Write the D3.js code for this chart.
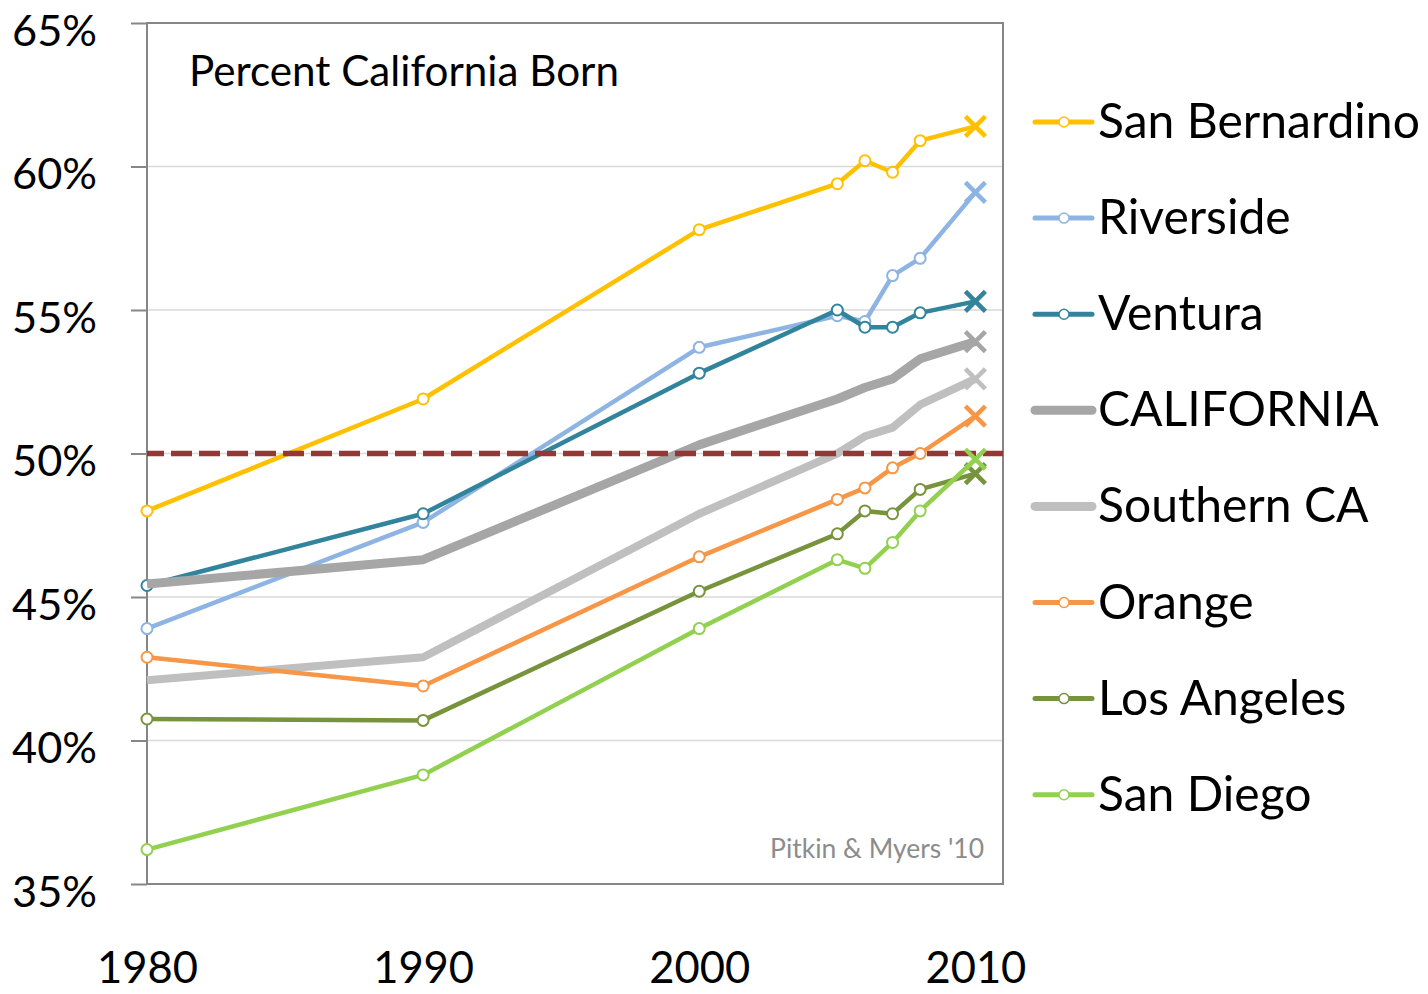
<!DOCTYPE html>
<html>
<head>
<meta charset="utf-8">
<script src="https://cdn.jsdelivr.net/npm/d3@7"></script>
<style>
  html, body { margin:0; padding:0; background:#fff; }
  svg { display:block; font-family: Lato, "Open Sans", sans-serif; }
</style>
</head>
<body>
<svg id="chart" width="1428" height="994"></svg>
<script>
// Percent California born, by county / region, 1980-2010.
const YEARS = [1980, 1990, 2000, 2005, 2006, 2007, 2008, 2010];
const SAN_BERNARDINO = [48.0, 51.9, 57.8, 59.4, 60.2, 59.8, 60.9, 61.4];
const RIVERSIDE      = [43.9, 47.6, 53.7, 54.8, 54.6, 56.2, 56.8, 59.1];
const VENTURA        = [45.4, 47.9, 52.8, 55.0, 54.4, 54.4, 54.9, 55.3];
const CALIFORNIA     = [45.45, 46.3, 50.3, 51.9, 52.3, 52.6, 53.3, 53.9];
const SOUTHERN_CA    = [42.1, 42.9, 47.9, 50.0, 50.6, 50.9, 51.7, 52.6];
const ORANGE         = [42.9, 41.9, 46.4, 48.4, 48.8, 49.5, 50.0, 51.3];
const LOS_ANGELES    = [40.75, 40.7, 45.2, 47.2, 48.0, 47.9, 48.75, 49.3];
const SAN_DIEGO      = [36.2, 38.8, 43.9, 46.3, 46.0, 46.9, 48.0, 49.8];

const NAMES  = ["San Bernardino","Riverside","Ventura","CALIFORNIA","Southern CA","Orange","Los Angeles","San Diego"];
const VALUES = [SAN_BERNARDINO, RIVERSIDE, VENTURA, CALIFORNIA, SOUTHERN_CA, ORANGE, LOS_ANGELES, SAN_DIEGO];
const COLORS = ["#ffc000","#8db4e2","#31849b","#a6a6a6","#bfbfbf","#f79646","#77933c","#92d050"];
const Y_TICKS = [35, 40, 45, 50, 55, 60, 65];
const X_TICKS = [1980, 1990, 2000, 2010];
const MAJORITY = 50;

const svg = d3.select("#chart");
const L = 147, R = 1003, T = 23, B = 884;
const x = d3.scaleLinear().domain([1980, 2011]).range([L, R]);
const y = d3.scaleLinear().domain([35, 65]).range([B, T]);

// fit a text node to a target width by scaling its font-size
function fitWidth(sel, w){
  sel.each(function(){
    const fs = parseFloat(this.getAttribute("font-size"));
    const len = this.getComputedTextLength();
    if (len > 0) this.setAttribute("font-size", (fs * w / len).toFixed(2));
  });
  return sel;
}

// gridlines
svg.append("g").selectAll("line").data(Y_TICKS.filter(v => v > 35 && v < 65)).join("line")
  .attr("x1", L).attr("x2", R).attr("y1", d => y(d)).attr("y2", d => y(d))
  .attr("stroke", "#d9d9d9").attr("stroke-width", 1.5);

// y axis (ticks + labels)
const yAxis = svg.append("g").attr("transform", `translate(${L},0)`)
  .call(d3.axisLeft(y).tickValues(Y_TICKS).tickSize(16).tickPadding(0).tickFormat(d => d + "%"));
yAxis.select(".domain").remove();
yAxis.selectAll(".tick line").attr("stroke", "#868686").attr("stroke-width", 2);
yAxis.selectAll(".tick text")
  .attr("x", -50).attr("y", 22).attr("dy", 0).attr("fill", "#000")
  .attr("font-size", 44).attr("font-family", "Lato, sans-serif");
fitWidth(yAxis.selectAll(".tick text"), 85);

// x axis labels
const xAxis = svg.append("g").attr("transform", `translate(0,${B})`)
  .call(d3.axisBottom(x).tickValues(X_TICKS).tickSize(0).tickPadding(0).tickFormat(d3.format("d")));
xAxis.select(".domain").remove();
xAxis.selectAll(".tick text")
  .attr("y", 99).attr("dy", 0).attr("fill", "#000")
  .attr("font-size", 44).attr("font-family", "Lato, sans-serif");
fitWidth(xAxis.selectAll(".tick text"), 101);

// plot box
svg.append("rect").attr("x", L).attr("y", T).attr("width", R - L).attr("height", B - T)
  .attr("fill", "none").attr("stroke", "#868686").attr("stroke-width", 2);

const line = d3.line().x((d, i) => x(YEARS[i])).y(d => y(d));
const plot = svg.append("g");

function drawSeries(k){
  const vals = VALUES[k], col = COLORS[k];
  const heavy = k === 3 || k === 4;
  const g = plot.append("g");
  g.append("path").datum(vals).attr("d", line)
    .attr("fill", "none").attr("stroke", col)
    .attr("stroke-width", k === 3 ? 9 : (k === 4 ? 8 : 4.5))
    .attr("stroke-linejoin", "round");
  if (!heavy){
    g.selectAll("circle").data(vals.slice(0, -1)).join("circle")
      .attr("cx", (d, i) => x(YEARS[i])).attr("cy", d => y(d)).attr("r", 5.5)
      .attr("fill", "#fff").attr("stroke", col).attr("stroke-width", 2);
  }
  const last = vals.length - 1, cx = x(YEARS[last]), cy = y(vals[last]), s = 10;
  g.append("path")
    .attr("d", `M${cx - s},${cy - s}L${cx + s},${cy + s}M${cx - s},${cy + s}L${cx + s},${cy - s}`)
    .attr("stroke", col).attr("stroke-width", 4.5);
}

// draw order as in the source: heavy gray series under the majority line
[0, 1, 2, 3, 4].forEach(drawSeries);
plot.append("line")
  .attr("x1", L).attr("x2", R).attr("y1", y(MAJORITY)).attr("y2", y(MAJORITY))
  .attr("stroke", "#953735").attr("stroke-width", 5.5).attr("stroke-dasharray", "21 7")
  .attr("stroke-dashoffset", 4);
[5, 6, 7].forEach(drawSeries);

// title and credit
fitWidth(svg.append("text").attr("x", 189).attr("y", 86).attr("font-size", 38)
  .attr("fill", "#000").text("Percent California Born"), 430);
fitWidth(svg.append("text").attr("x", 984).attr("y", 858).attr("text-anchor", "end")
  .attr("font-size", 26).attr("fill", "#8c8c8c").text("Pitkin & Myers '10"), 214);

// legend
const LEG_Y0 = 122, LEG_DY = 96.1;
const leg = svg.append("g").selectAll("g").data(NAMES).join("g")
  .attr("transform", (d, i) => `translate(0,${LEG_Y0 + i * LEG_DY})`);
leg.append("line").attr("x1", 1035).attr("x2", 1092).attr("y1", 0).attr("y2", 0)
  .attr("stroke", (d, i) => COLORS[i]).attr("stroke-linecap", "round")
  .attr("stroke-width", (d, i) => (i === 3 || i === 4) ? 9 : 5);
leg.filter((d, i) => i !== 3 && i !== 4).append("circle")
  .attr("cx", 1064).attr("cy", 0).attr("r", 5)
  .attr("fill", "#fff").attr("stroke", (d) => COLORS[NAMES.indexOf(d)]).attr("stroke-width", 1.5);
const legText = leg.append("text").attr("x", 1098).attr("y", 16).attr("font-size", 48)
  .attr("fill", "#000").text(d => d);
fitWidth(legText.filter(d => d === "San Bernardino"), 322);
const legSize = legText.filter(d => d === "San Bernardino").attr("font-size");
legText.attr("font-size", legSize);
</script>
</body>
</html>
